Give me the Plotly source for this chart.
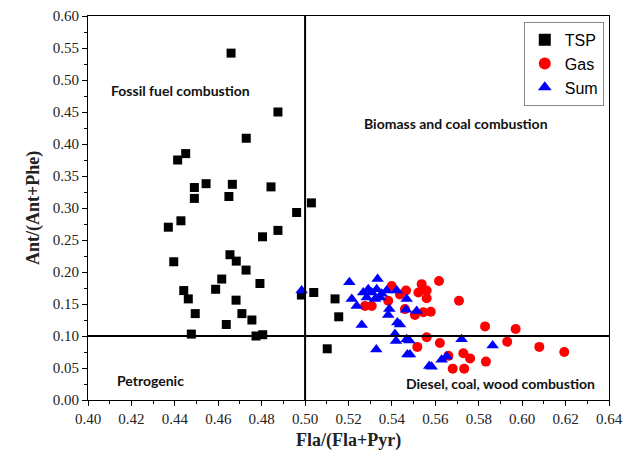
import plotly.graph_objects as go

# TSP
tsp_x = [0.4659, 0.4875, 0.4729, 0.4450, 0.4413, 0.4490, 0.4544, 0.4665, 0.4843, 0.4490,
         0.4649, 0.5029, 0.4961, 0.4428, 0.4370, 0.4875, 0.4804, 0.4395, 0.4654, 0.4683,
         0.4728, 0.4616, 0.4588, 0.4792, 0.4441, 0.4462, 0.4682, 0.4494, 0.4709, 0.4755,
         0.4637, 0.4476, 0.4774, 0.4805, 0.4983, 0.5040, 0.5138, 0.5155, 0.5102]
tsp_y = [0.542, 0.450, 0.409, 0.385, 0.375, 0.332, 0.338, 0.337, 0.333, 0.315,
         0.318, 0.308, 0.293, 0.280, 0.270, 0.265, 0.255, 0.216, 0.227, 0.217,
         0.203, 0.189, 0.173, 0.182, 0.171, 0.158, 0.156, 0.135, 0.135, 0.125,
         0.118, 0.103, 0.100, 0.102, 0.164, 0.168, 0.158, 0.130, 0.080]

# Gas
gas_x = [0.5399, 0.5276, 0.5307, 0.5383, 0.5437, 0.5465, 0.5460, 0.5617, 0.5537, 0.5522,
         0.5560, 0.5560, 0.5709, 0.5506, 0.5545, 0.5579, 0.5829, 0.5560, 0.5517, 0.5621,
         0.5660, 0.5729, 0.5760, 0.5833, 0.5680, 0.5733, 0.5931, 0.5970, 0.6079, 0.6194]
gas_y = [0.178, 0.147, 0.147, 0.155, 0.165, 0.171, 0.142, 0.186, 0.181, 0.168,
         0.171, 0.159, 0.155, 0.133, 0.137, 0.138, 0.115, 0.098, 0.083, 0.089,
         0.069, 0.073, 0.065, 0.060, 0.049, 0.049, 0.091, 0.111, 0.083, 0.075]

# Sum
sum_x = [0.4984, 0.5204, 0.5334, 0.5215, 0.5238, 0.5261, 0.5268, 0.5291, 0.5307, 0.5330,
         0.5353, 0.5376, 0.5422, 0.5468, 0.5284, 0.5322, 0.5345, 0.5388, 0.5383, 0.5425,
         0.5414, 0.5419, 0.5328, 0.5471, 0.5468, 0.5465, 0.5514, 0.5437, 0.5480, 0.5483,
         0.5572, 0.5583, 0.5629, 0.5652, 0.5721, 0.5864]
sum_y = [0.171, 0.184, 0.189, 0.158, 0.147, 0.117, 0.168, 0.173, 0.168, 0.173,
         0.166, 0.171, 0.171, 0.158, 0.160, 0.158, 0.160, 0.142, 0.133, 0.121,
         0.103, 0.092, 0.079, 0.071, 0.095, 0.141, 0.139, 0.118, 0.093, 0.071,
         0.053, 0.052, 0.063, 0.068, 0.095, 0.085]

x_ticks = [0.40, 0.42, 0.44, 0.46, 0.48, 0.50, 0.52, 0.54, 0.56, 0.58, 0.60, 0.62, 0.64]
y_ticks = [0.00, 0.05, 0.10, 0.15, 0.20, 0.25, 0.30, 0.35, 0.40, 0.45, 0.50, 0.55, 0.60]

fig = go.Figure()
fig.add_trace(go.Scatter(x=tsp_x, y=tsp_y, mode="markers", name="TSP",
                         marker=dict(symbol="square", size=9, color="black")))
fig.add_trace(go.Scatter(x=gas_x, y=gas_y, mode="markers", name="Gas",
                         marker=dict(symbol="circle", size=10, color="#ff0000")))
fig.add_trace(go.Scatter(x=sum_x, y=sum_y, mode="markers", name="Sum",
                         marker=dict(symbol="triangle-up", size=11, color="#0000ff")))

fig.add_shape(type="line", x0=0.5, x1=0.5, y0=0, y1=0.6, xref="x", yref="y",
              line=dict(color="black", width=2))
fig.add_shape(type="line", x0=0.4, x1=0.64, y0=0.1, y1=0.1, xref="x", yref="y",
              line=dict(color="black", width=2))

ann_font = dict(family="Lato", size=14, color="#111")
for txt, ax, ay in [("<b>Fossil fuel combustion</b>", 0.4424, 0.484),
                    ("<b>Biomass and coal combustion</b>", 0.5695, 0.432),
                    ("<b>Petrogenic</b>", 0.4286, 0.030),
                    ("<b>Diesel, coal, wood combustion</b>", 0.5898, 0.026)]:
    fig.add_annotation(x=ax, y=ay, text=txt, showarrow=False, font=ann_font,
                       xref="x", yref="y")

# x-axis title as annotation for exact placement
fig.add_annotation(x=0.5, y=-0.106, xref="paper", yref="paper", showarrow=False,
                   text="<b>Fla/(Fla+Pyr)</b>", yanchor="middle",
                   font=dict(family="Liberation Serif", size=18, color="#222"))

axis_common = dict(showgrid=False, zeroline=False, showline=True, linecolor="black",
                   linewidth=1, mirror=True, ticks="outside", ticklen=5, tickwidth=1,
                   tickcolor="black", automargin=False,
                   tickfont=dict(family="Liberation Serif", size=15, color="#222"))

fig.update_xaxes(range=[0.40, 0.64], tickvals=x_ticks,
                 ticktext=[f"{v:.2f}" for v in x_ticks],
                 minor=dict(ticks="outside", ticklen=3, tickcolor="black", dtick=0.01, tick0=0.40),
                 **axis_common)
fig.update_yaxes(range=[0.0, 0.60], tickvals=y_ticks,
                 ticktext=[f"{v:.2f}" for v in y_ticks],
                 minor=dict(ticks="outside", ticklen=3, tickcolor="black", dtick=0.025, tick0=0.0),
                 title=dict(text="<b>Ant/(Ant+Phe)</b>",
                            font=dict(family="Liberation Serif", size=18, color="#222"),
                            standoff=8),
                 **axis_common)

fig.update_layout(
    width=624, height=466,
    margin=dict(l=88, r=15, t=16, b=66),
    paper_bgcolor="white", plot_bgcolor="white",
    showlegend=True,
    legend=dict(x=0.99, y=0.985, xanchor="right", yanchor="top",
                bordercolor="#888", borderwidth=1, bgcolor="white",
                font=dict(family="Liberation Sans", size=16, color="black"),
                itemsizing="constant", tracegroupgap=0),
)

fig.write_html("out.html")
